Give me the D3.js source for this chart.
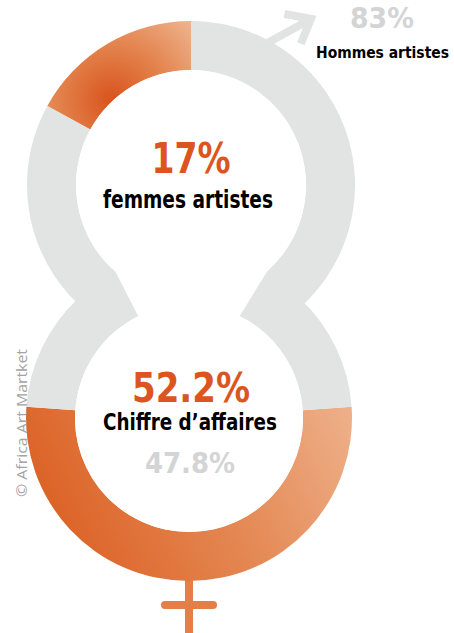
<!DOCTYPE html>
<html>
<head>
<meta charset="utf-8">
<script src="https://cdn.jsdelivr.net/npm/d3@7"></script>
<style>
  body { margin: 0; background: #fff; }
  text { font-family: "DejaVu Sans Condensed", "DejaVu Sans", sans-serif; font-weight: bold; }
</style>
</head>
<body>
<div id="chart"></div>
<script>
// artists by gender (top ring), share of sales (bottom ring)
const artistLabels = ["femmes artistes", "Hommes artistes"];
const artistShare = [17, 83];
const salesLabels = ["Chiffre d\u2019affaires femmes", "Chiffre d\u2019affaires hommes"];
const salesShare = [52.2, 47.8];

function drawChart() {
    var width = 454, height = 633;
    var grey = "#e2e3e3", orange = "#dc5520", lightGrey = "#d3d4d5";

    var top = { cx: 191, cy: 185, rOut: 164, rIn: 115 };
    var bot = { cx: 189, cy: 418, rOut: 163, rIn: 114 };

    var svg = d3.select("#chart")
        .append("svg")
        .attr("width", width)
        .attr("height", height);

    var defs = svg.append("defs");

    // radial gradient for the top orange slice (coords relative to ring centre)
    var rg = defs.append("radialGradient")
        .attr("id", "topGrad")
        .attr("gradientUnits", "userSpaceOnUse")
        .attr("cx", 112 - top.cx).attr("cy", 100 - top.cy).attr("r", 108);
    rg.append("stop").attr("offset", "0").attr("stop-color", "#d9531d");
    rg.append("stop").attr("offset", "0.5").attr("stop-color", "#e3824c");
    rg.append("stop").attr("offset", "1").attr("stop-color", "#eeb18b");

    // linear gradient for the bottom orange slice
    var lg = defs.append("linearGradient")
        .attr("id", "botGrad")
        .attr("gradientUnits", "userSpaceOnUse")
        .attr("x1", 60 - bot.cx).attr("y1", 540 - bot.cy)
        .attr("x2", 350 - bot.cx).attr("y2", 400 - bot.cy);
    lg.append("stop").attr("offset", "0").attr("stop-color", "#dc6226");
    lg.append("stop").attr("offset", "0.5").attr("stop-color", "#e48752");
    lg.append("stop").attr("offset", "1").attr("stop-color", "#eeb18b");

    // female symbol cross below the bottom ring
    var cross = svg.append("g")
        .attr("stroke", "#e37f48")
        .attr("stroke-width", 8);
    cross.append("line")
        .attr("x1", bot.cx).attr("x2", bot.cx)
        .attr("y1", bot.cy + bot.rOut - 2).attr("y2", height + 5);
    cross.append("line")
        .attr("x1", bot.cx - 24).attr("x2", bot.cx + 24)
        .attr("y1", 605).attr("y2", 605)
        .attr("stroke-linecap", "round");

    // male arrow leaving the top ring
    var a0 = 27.8 * Math.PI / 180;
    var sx = top.cx + top.rOut * Math.sin(a0) - 2, sy = top.cy - top.rOut * Math.cos(a0) + 4;
    var dir = -29 * Math.PI / 180, len = 52;
    var tx = sx + len * Math.cos(dir), ty = sy + len * Math.sin(dir);
    var arrow = svg.append("g")
        .attr("stroke", grey)
        .attr("stroke-width", 8)
        .attr("fill", "none");
    arrow.append("line")
        .attr("x1", sx).attr("y1", sy).attr("x2", tx - 3).attr("y2", ty + 2);
    var headLen = 27;
    arrow.append("path")
        .attr("stroke-linejoin", "miter")
        .attr("d", d3.line()([
            [tx + headLen * Math.cos(dir + Math.PI - 0.68), ty + headLen * Math.sin(dir + Math.PI - 0.68)],
            [tx, ty],
            [tx + headLen * Math.cos(dir + Math.PI + 0.68), ty + headLen * Math.sin(dir + Math.PI + 0.68)]
        ]));

    // top ring: orange slice runs anticlockwise from 12 o'clock
    var topStart = -2 * Math.PI * artistShare[0] / d3.sum(artistShare);
    var topPie = d3.pie().sort(null).startAngle(topStart).endAngle(topStart + 2 * Math.PI);
    var topArc = d3.arc().innerRadius(top.rIn).outerRadius(top.rOut);
    svg.append("g")
        .attr("transform", "translate(" + top.cx + "," + top.cy + ")")
        .selectAll("path")
        .data(topPie(artistShare))
        .enter()
        .append("path")
        .attr("d", topArc)
        .attr("fill", function (d, i) { return i === 0 ? "url(#topGrad)" : grey; });

    // bottom ring: orange slice centred on 6 o'clock
    var botStart = Math.PI - Math.PI * salesShare[0] / d3.sum(salesShare);
    var botPie = d3.pie().sort(null).startAngle(botStart).endAngle(botStart + 2 * Math.PI);
    var botArc = d3.arc().innerRadius(bot.rIn).outerRadius(bot.rOut);
    svg.append("g")
        .attr("transform", "translate(" + bot.cx + "," + bot.cy + ")")
        .selectAll("path")
        .data(botPie(salesShare))
        .enter()
        .append("path")
        .attr("d", botArc)
        .attr("fill", function (d, i) { return i === 0 ? "url(#botGrad)" : grey; });

    // white hole: both inner circles joined by the neck
    var rad = function (deg) { return (deg - 90) * Math.PI / 180; };
    var hole = d3.path();
    hole.arc(top.cx, top.cy, top.rIn, rad(221), rad(138.5));
    hole.arc(bot.cx, bot.cy, bot.rIn, rad(26.5), rad(333.5));
    hole.closePath();
    svg.append("path").attr("d", hole.toString()).attr("fill", "#fff");

    // labels
    svg.append("text")
        .attr("x", 191).attr("y", 173)
        .attr("text-anchor", "middle")
        .attr("font-size", 42)
        .attr("fill", orange)
        .attr("textLength", 79).attr("lengthAdjust", "spacingAndGlyphs")
        .text(artistShare[0] + "%");
    svg.append("text")
        .attr("x", 188).attr("y", 208)
        .attr("text-anchor", "middle")
        .attr("font-size", 24)
        .attr("fill", "#000")
        .attr("textLength", 170).attr("lengthAdjust", "spacingAndGlyphs")
        .text(artistLabels[0]);
    svg.append("text")
        .attr("x", 414).attr("y", 28)
        .attr("text-anchor", "end")
        .attr("font-size", 29)
        .attr("fill", lightGrey)
        .attr("textLength", 64).attr("lengthAdjust", "spacingAndGlyphs")
        .text(artistShare[1] + "%");
    svg.append("text")
        .attr("x", 449).attr("y", 58)
        .attr("text-anchor", "end")
        .attr("font-size", 16)
        .attr("fill", "#000")
        .attr("textLength", 133).attr("lengthAdjust", "spacingAndGlyphs")
        .text(artistLabels[1]);

    svg.append("text")
        .attr("x", 191).attr("y", 402)
        .attr("text-anchor", "middle")
        .attr("font-size", 40)
        .attr("fill", orange)
        .attr("textLength", 118).attr("lengthAdjust", "spacingAndGlyphs")
        .text(salesShare[0] + "%");
    svg.append("text")
        .attr("x", 190).attr("y", 430)
        .attr("text-anchor", "middle")
        .attr("font-size", 23)
        .attr("fill", "#000")
        .attr("textLength", 174).attr("lengthAdjust", "spacingAndGlyphs")
        .text("Chiffre d\u2019affaires");
    svg.append("text")
        .attr("x", 190).attr("y", 473)
        .attr("text-anchor", "middle")
        .attr("font-size", 29)
        .attr("fill", lightGrey)
        .attr("textLength", 90).attr("lengthAdjust", "spacingAndGlyphs")
        .text(salesShare[1] + "%");

    // credit, rotated along the left edge
    svg.append("text")
        .attr("transform", "translate(27,497) rotate(-90)")
        .attr("font-size", 14)
        .attr("fill", "#a3a3a3")
        .style("font-family", "'Open Sans', sans-serif")
        .style("font-weight", "normal")
        .attr("textLength", 148).attr("lengthAdjust", "spacingAndGlyphs")
        .text("\u00a9 Africa Art Martket");
}

drawChart();
</script>
</body>
</html>
